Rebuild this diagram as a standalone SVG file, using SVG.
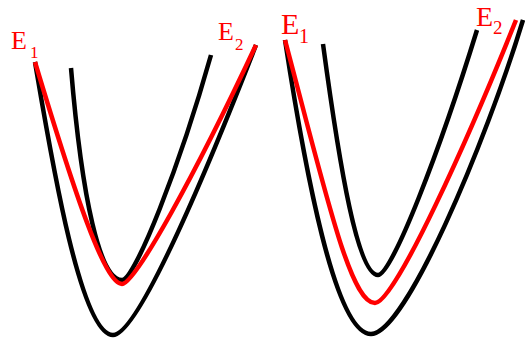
<svg xmlns="http://www.w3.org/2000/svg" width="525" height="341" viewBox="0 0 525 341">
<style>
.k{fill:none;stroke:#000;stroke-width:4.5}
.r{fill:none;stroke:#ff0000;stroke-width:4.5}
.lbl{font-family:"Liberation Serif","Times New Roman",serif;fill:#ff0000}
</style>
<rect width="525" height="341" fill="#fff"/>
<g id="left-panel">
<path class="k" d="M35,62 C50,150 80,335 113,335 C140,335 215,150 256,45"/>
<path class="k" d="M71,68 C82,200 100,280 122,280 C135,280 180,165 211,55"/>
<path class="r" d="M35,62 C75,195 105,284 122,284 C135,284 195,175 256,45"/>
</g>
<g id="right-panel">
<path class="k" d="M285,40 C305,170 335,334 371,334 C405,334 485,145 523,20"/>
<path class="k" d="M323,44 C340,170 358,275 378,275 C392,275 440,150 477,30"/>
<path class="r" d="M285,40 C325,190 350,303 375,303 C395,303 470,135 516,20"/>
</g>
<g id="labels">
<text class="lbl" x="11" y="49" font-size="26">E</text>
<text class="lbl" x="30" y="58" font-size="17">1</text>
<text class="lbl" x="218" y="40" font-size="26">E</text>
<text class="lbl" x="235" y="50" font-size="17">2</text>
<text class="lbl" x="281" y="34" font-size="30">E</text>
<text class="lbl" x="299" y="43" font-size="20">1</text>
<text class="lbl" x="476" y="26" font-size="28">E</text>
<text class="lbl" x="493" y="34" font-size="19">2</text>
</g>
</svg>
